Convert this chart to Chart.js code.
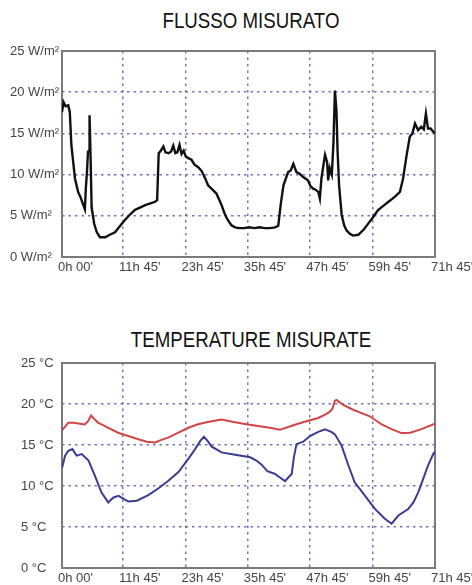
<!DOCTYPE html>
<html>
<head>
<meta charset="utf-8">
<script src="https://cdn.jsdelivr.net/npm/chart.js@4"></script>
<style>
  html, body { margin: 0; padding: 0; background: #fff; overflow: hidden; }
  body { width: 472px; height: 585px; position: relative; }
  .titolo {
    position: absolute; left: 0; width: 502px; text-align: center;
    font-family: "Liberation Sans", Arial, sans-serif;
    font-size: 22px; line-height: 22px; color: #111;
    transform: scaleX(0.85); transform-origin: 251px 0;
  }
  canvas { position: absolute; left: 0; }
</style>
</head>
<body>
<div class="titolo" style="top:10px">FLUSSO MISURATO</div>
<canvas id="grafico-flusso" width="472" height="245" style="top:40px"></canvas>
<div class="titolo" style="top:329px">TEMPERATURE MISURATE</div>
<canvas id="grafico-temperature" width="472" height="233" style="top:352px"></canvas>
<script>
// asse dei tempi (ore dall'inizio della misura)
const oreTick = [0, 11.75, 23.75, 35.75, 47.75, 59.75, 71.75];
const oreEtichette = ["0h 00'", "11h 45'", "23h 45'", "35h 45'", "47h 45'", "59h 45'", "71h 45'"];

// flusso termico W/m²
const oreFlusso = [0, 0.3, 0.7, 1.2, 1.5, 1.8, 2.5, 3.1, 3.6, 4.1, 4.4, 4.6, 4.8, 5.0, 5.2, 5.3, 5.5, 5.7, 6.2, 6.7,
  7.3, 8.3, 9.2, 10.2, 11.2, 12.1, 13, 14, 15, 16, 17, 17.9, 18.3, 18.6, 19, 19.5, 19.9, 20.5, 21, 21.4,
  21.8, 22.2, 22.6, 23, 23.4, 23.8, 24.3, 24.9, 25.5, 26.2, 26.9, 27.5, 28.1, 28.9, 29.7, 30.2, 30.7, 31.2, 31.7, 32.2,
  32.6, 33.3, 34, 35, 36, 37, 38, 39, 40, 41, 41.6, 42.1, 42.6, 43.1, 43.5, 44, 44.5, 45.1, 45.7, 46.4,
  47.3, 47.8, 48.3, 48.7, 49.3, 49.6, 49.9, 50.3, 50.6, 51.0, 51.2, 51.5, 51.9, 52.2, 52.5, 52.8, 53.0, 53.3, 53.8, 54.3,
  54.75, 55.4, 56, 57, 58, 58.9, 59.8, 60.8, 61.8, 62.8, 64, 65, 65.6, 66.3, 66.9, 67.4, 67.9, 68.5, 69.1, 69.6,
  70, 70.4, 70.9, 71.4, 71.75];
const flusso = [17.6, 18.8, 18.3, 18.4, 17.6, 13.6, 9.5, 7.9, 7.2, 6.3, 5.8, 8.5, 10.3, 12.8, 12.9, 17.2, 12, 6.0, 4.0, 3.0,
  2.4, 2.4, 2.7, 3.0, 3.8, 4.5, 5.1, 5.7, 6.0, 6.3, 6.5, 6.7, 6.9, 12.6, 12.9, 13.4, 12.7, 12.6, 12.8, 13.5,
  12.6, 12.7, 13.6, 12.5, 12.9, 12.2, 12.0, 11.8, 11.2, 10.9, 10.4, 9.6, 8.7, 8.2, 7.7, 7.0, 6.3, 5.4, 4.7, 4.2,
  3.85, 3.6, 3.5, 3.5, 3.6, 3.5, 3.6, 3.5, 3.5, 3.6, 3.8, 6.5, 8.7, 9.6, 10.3, 10.5, 11.3, 10.3, 10.1, 9.7,
  9.3, 8.6, 8.3, 8.2, 7.9, 7.1, 9.5, 11.2, 12.4, 11.5, 9.3, 10.8, 10.0, 13.6, 20.2, 17.7, 13, 8.7, 5.1, 3.8,
  3.2, 2.8, 2.6, 2.7, 3.3, 4.05, 4.8, 5.7, 6.2, 6.7, 7.3, 7.9, 9.5, 12.4, 14.6, 15.0, 16.2, 15.4, 15.8, 15.5,
  17.4, 15.6, 15.6, 15.2, 15.0];

// temperature °C (rossa e blu)
const oreInterna = [0, 1.2, 2.2, 3.5, 4.4, 5.0, 5.6, 6.3, 7.0, 8.0, 8.9, 10.8, 12.75, 14.7, 16.3, 17.9, 19, 20.4, 22.4, 24.3,
  26, 28, 30.7, 33, 35.8, 38, 40, 41.9, 43.5, 45.4, 47, 49.3, 50.6, 51.4, 52.0, 52.5, 52.8, 54.1, 56, 58,
  59.2, 61.5, 63.5, 65.3, 67, 69, 71.75];
const tempInterna = [16.8, 17.7, 17.7, 17.6, 17.5, 17.9, 18.6, 18.1, 17.7, 17.4, 17.1, 16.5, 16.1, 15.7, 15.4, 15.3, 15.6, 15.9, 16.5, 17.1,
  17.5, 17.8, 18.1, 17.8, 17.5, 17.3, 17.1, 16.85, 17.2, 17.6, 17.9, 18.3, 18.7, 19.0, 19.4, 20.4, 20.5, 19.9, 19.3, 18.8,
  18.5, 17.5, 16.9, 16.45, 16.5, 16.9, 17.6];
const oreEsterna = [0, 0.6, 1.2, 2.0, 2.8, 3.8, 5.1, 6.3, 7.6, 8.9, 9.9, 10.9, 11.7, 12.75, 14.4, 16.6, 18.5, 20.4, 22.4, 24.3,
  25.6, 26.6, 27.3, 28.0, 28.8, 30.7, 33.3, 36.2, 37.4, 38.4, 39.5, 40.9, 42.0, 42.9, 44.2, 44.6, 45.1, 46.4, 47.7, 49.3,
  50.6, 51.8, 52.5, 53.8, 55.1, 56.3, 58.3, 60.2, 62.1, 63.4, 64.7, 66.6, 67.6, 68.5, 69.5, 70.4, 71.4, 71.75];
const tempEsterna = [12.2, 13.7, 14.3, 14.5, 13.7, 13.9, 13.1, 11.3, 9.2, 8.0, 8.6, 8.8, 8.5, 8.1, 8.2, 8.9, 9.7, 10.6, 11.7, 13.3,
  14.5, 15.5, 16.0, 15.5, 14.8, 14.1, 13.8, 13.5, 13.1, 12.6, 11.8, 11.5, 11.0, 10.6, 11.5, 13.5, 15.1, 15.4, 16.1, 16.6,
  16.9, 16.6, 16.3, 14.9, 12.5, 10.45, 8.8, 7.2, 6.0, 5.4, 6.4, 7.2, 8.0, 9.2, 10.9, 12.5, 13.9, 14.2];

const fontTick = { family: "'Liberation Sans', Arial, sans-serif", size: 13 };
const coloreGriglia = "rgba(95, 90, 175, 0.85)";

// cornice grigia attorno all'area del grafico
const cornice = {
  id: "cornice",
  beforeDatasetsDraw(chart) {
    const a = chart.chartArea;
    const ctx = chart.ctx;
    ctx.save();
    ctx.strokeStyle = "#7a7a7a";
    ctx.lineWidth = 2;
    ctx.strokeRect(a.left, a.top, a.right - a.left, a.bottom - a.top);
    ctx.restore();
  }
};

function punti(ore, valori) {
  return ore.map((h, i) => ({ x: h, y: valori[i] }));
}

function opzioni(unita, sinistra, sotto) {
  return {
    responsive: false,
    animation: false,
    layout: { padding: { left: sinistra, right: 37, top: 11, bottom: sotto } },
    plugins: { legend: { display: false }, tooltip: { enabled: false } },
    elements: { point: { radius: 0 }, line: { tension: 0, borderWidth: 2 } },
    scales: {
      x: {
        type: "linear",
        min: 0,
        max: 71.75,
        afterBuildTicks: s => { s.ticks = oreTick.map(v => ({ value: v })); },
        afterFit: s => { s.height = 20; s.paddingLeft = 0; s.paddingRight = 0; },
        ticks: {
          autoSkip: false, maxRotation: 0, align: "start", labelOffset: -4, padding: 3,
          color: "#444", font: fontTick,
          callback: (v, i) => oreEtichette[i]
        },
        grid: { color: coloreGriglia, lineWidth: 1.5, drawTicks: false },
        border: { display: false, dash: [2.5, 4] }
      },
      y: {
        min: 0,
        max: 25,
        afterFit: s => { s.width = 62 - sinistra; s.paddingTop = 0; s.paddingBottom = 0; },
        ticks: {
          stepSize: 5, crossAlign: "far", padding: 4,
          color: "#444", font: fontTick,
          callback: v => v + unita
        },
        grid: { color: coloreGriglia, lineWidth: 1.5, drawTicks: false },
        border: { display: false, dash: [2.5, 4] }
      }
    }
  };
}

new Chart(document.getElementById("grafico-flusso"), {
  type: "line",
  data: {
    datasets: [{
      data: punti(oreFlusso, flusso),
      borderColor: "#111111",
      borderWidth: 2.4
    }]
  },
  options: opzioni(" W/m²", 10, 8),
  plugins: [cornice]
});

new Chart(document.getElementById("grafico-temperature"), {
  type: "line",
  data: {
    datasets: [{
      data: punti(oreInterna, tempInterna),
      borderColor: "#d04646"
    }, {
      data: punti(oreEsterna, tempEsterna),
      borderColor: "#3c3c92"
    }]
  },
  options: opzioni(" °C", 21, -3),
  plugins: [cornice]
});
</script>
</body>
</html>
